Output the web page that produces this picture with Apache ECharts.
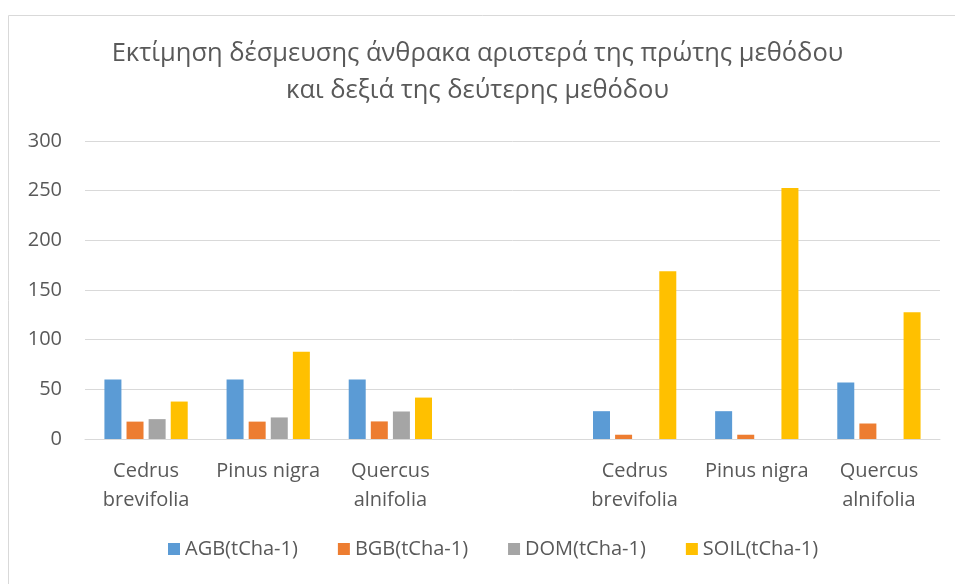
<!DOCTYPE html>
<html>
<head>
<meta charset="utf-8">
<script src="https://cdn.jsdelivr.net/npm/echarts@6/dist/echarts.min.js"></script>
<style>
  html, body { margin: 0; padding: 0; background: #fff; }
  #main { width: 955px; height: 584px; }
</style>
</head>
<body>
<div id="main"></div>
<script>
  // categories: left group = first method, right group = second method, empty slot between
  var categories = ['Cedrus\nbrevifolia', 'Pinus nigra', 'Quercus\nalnifolia', '',
                    'Cedrus\nbrevifolia', 'Pinus nigra', 'Quercus\nalnifolia'];
  var agb  = [60, 60, 60, null, 28, 28, 57];
  var bgb  = [17.5, 17.5, 17.7, null, 4.3, 4.3, 15.6];
  var dom  = [20, 21.7, 27.7, null, null, null, null];
  var soil = [37.7, 87.9, 41.7, null, 168.8, 252.8, 127.7];
  var seriesNames = ['AGB(tCha-1)', 'BGB(tCha-1)', 'DOM(tCha-1)', 'SOIL(tCha-1)'];
  var colors = ['#5B9BD5', '#ED7D31', '#A5A5A5', '#FFC000'];

  var font = '"Open Sans", "Noto Sans", sans-serif';
  var myChart = echarts.init(document.getElementById('main'));

  var values = [agb, bgb, dom, soil];
  var series = seriesNames.map(function (name, i) {
    return {
      name: name,
      type: 'bar',
      data: values[i],
      barWidth: 17,
      barGap: '30%',
      itemStyle: { color: colors[i] }
    };
  });

  myChart.setOption({
    animation: false,
    textStyle: { fontFamily: font },
    color: colors,
    graphic: [{
      type: 'rect',
      shape: { x: 8.5, y: 15.5, width: 960, height: 600 },
      style: { fill: 'none', stroke: '#d9d9d9', lineWidth: 1 },
      silent: true
    }],
    title: {
      text: 'Εκτίμηση δέσμευσης άνθρακα αριστερά της πρώτης μεθόδου\nκαι δεξιά της δεύτερης μεθόδου',
      left: 'center',
      top: 30,
      textStyle: {
        fontFamily: font,
        fontSize: 25.5,
        fontWeight: 'normal',
        color: '#595959',
        lineHeight: 37
      }
    },
    legend: {
      data: seriesNames,
      bottom: 20,
      left: 163,
      itemWidth: 12,
      itemHeight: 12,
      itemGap: 40,
      icon: 'rect',
      textStyle: { fontFamily: font, fontSize: 20, color: '#595959' }
    },
    grid: { left: 85, right: 15, top: 141, bottom: 145 },
    xAxis: {
      type: 'category',
      data: categories,
      axisTick: { show: false },
      axisLine: { lineStyle: { color: '#d9d9d9', width: 1 } },
      axisLabel: {
        interval: 0,
        color: '#595959',
        fontSize: 20,
        lineHeight: 29,
        margin: 18,
        fontFamily: font
      }
    },
    yAxis: {
      type: 'value',
      min: 0,
      max: 300,
      interval: 50,
      axisLine: { show: false },
      axisTick: { show: false },
      splitLine: { lineStyle: { color: '#d9d9d9', width: 1 } },
      axisLabel: { color: '#595959', fontSize: 20, margin: 23, fontFamily: font }
    },
    series: series
  });
</script>
</body>
</html>
